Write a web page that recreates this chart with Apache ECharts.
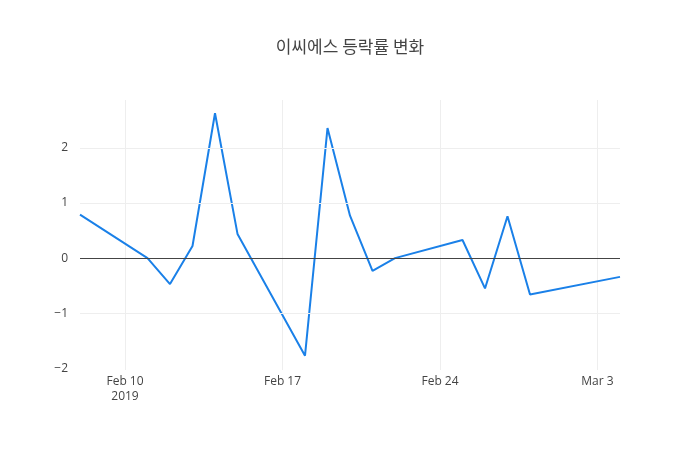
<!DOCTYPE html>
<html>
<head>
<meta charset="utf-8">
<script src="https://cdn.jsdelivr.net/npm/echarts@6/dist/echarts.min.js"></script>
<style>
  html, body { margin: 0; padding: 0; background: #fff; }
  #chart { width: 700px; height: 450px; }
</style>
</head>
<body>
<div id="chart"></div>
<script>
// every calendar day on the axis, Feb 8 .. Mar 4 2019
const days = [
  "2019-02-08", "2019-02-09", "2019-02-10", "2019-02-11", "2019-02-12",
  "2019-02-13", "2019-02-14", "2019-02-15", "2019-02-16", "2019-02-17",
  "2019-02-18", "2019-02-19", "2019-02-20", "2019-02-21", "2019-02-22",
  "2019-02-23", "2019-02-24", "2019-02-25", "2019-02-26", "2019-02-27",
  "2019-02-28", "2019-03-01", "2019-03-02", "2019-03-03", "2019-03-04"
];

// trading days and daily change (%)
const tradeDates = [
  "2019-02-08", "2019-02-11", "2019-02-12", "2019-02-13", "2019-02-14",
  "2019-02-15", "2019-02-18", "2019-02-19", "2019-02-20", "2019-02-21",
  "2019-02-22", "2019-02-25", "2019-02-26", "2019-02-27", "2019-02-28",
  "2019-03-04"
];
const changes = [
  0.79, 0.0, -0.47, 0.22, 2.63,
  0.44, -1.77, 2.36, 0.77, -0.23,
  0.0, 0.33, -0.55, 0.76, -0.66,
  -0.34
];

// tick labels on the date axis
const tickLabels = {
  "2019-02-10": "Feb 10\n2019",
  "2019-02-17": "Feb 17",
  "2019-02-24": "Feb 24",
  "2019-03-03": "Mar 3"
};

// horizontal grid values (zero line drawn separately)
const yGrid = [-1, 1, 2];

const values = days.map((d) => {
  const i = tradeDates.indexOf(d);
  return i >= 0 ? changes[i] : null;
});

const isTick = (idx, val) => tickLabels[val] !== undefined;

const chart = echarts.init(document.getElementById("chart"));

const gridLines = yGrid.map((v) => ({
  yAxis: v,
  lineStyle: { color: "#eee", width: 1, type: "solid" }
}));

const option = {
  animation: false,
  textStyle: { fontFamily: "Open Sans, Noto Sans CJK KR, sans-serif" },
  title: {
    text: "이씨에스 등락률 변화",
    left: "center",
    top: 33,
    textStyle: {
      fontFamily: "Noto Sans CJK KR, sans-serif",
      fontSize: 17,
      fontWeight: "normal",
      color: "#444"
    }
  },
  grid: { left: 80, right: 80, top: 100, bottom: 80 },
  xAxis: {
    type: "category",
    data: days,
    boundaryGap: false,
    axisLine: { show: false },
    axisTick: { show: false },
    axisLabel: {
      interval: isTick,
      formatter: (v) => tickLabels[v] || "",
      color: "#444",
      fontSize: 12,
      lineHeight: 15,
      margin: 4
    },
    splitLine: {
      show: true,
      interval: isTick,
      lineStyle: { color: "#eee", width: 1 }
    }
  },
  yAxis: {
    type: "value",
    min: -2.03,
    max: 2.87,
    axisLine: { show: false },
    axisTick: { show: false },
    axisLabel: {
      showMinLabel: false,
      showMaxLabel: false,
      color: "#444",
      fontSize: 12,
      margin: 12,
      formatter: (v) => (Number.isInteger(v) ? (v < 0 ? "\u2212" + Math.abs(v) : String(v)) : "")
    },
    splitLine: { show: false }
  },
  series: [
    {
      type: "line",
      data: values,
      connectNulls: true,
      showSymbol: false,
      lineStyle: { color: "#1a80e8", width: 2 },
      itemStyle: { color: "#1a80e8" },
      markLine: {
        silent: true,
        symbol: "none",
        label: { show: false },
        lineStyle: { color: "#444", width: 1, type: "solid" },
        data: gridLines.concat([{ yAxis: 0 }])
      },
      z: 3
    }
  ]
};

chart.setOption(option);
</script>
</body>
</html>
